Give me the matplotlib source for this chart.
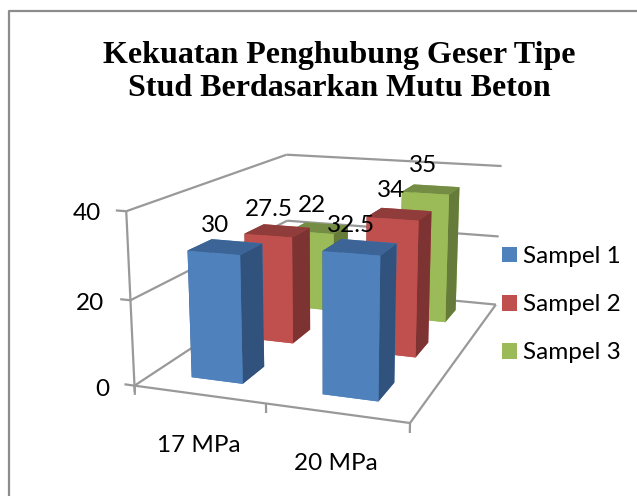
import numpy as np
import matplotlib
matplotlib.use('Agg')
import matplotlib.pyplot as plt
from matplotlib.lines import Line2D
from matplotlib.patches import Patch

W, H = 637, 496

categories = ['17 MPa', '20 MPa']
series_names = ['Sampel 1', 'Sampel 2', 'Sampel 3']
sampel_1 = [30, 32.5]
sampel_2 = [27.5, 34]
sampel_3 = [22, 35]
value_ticks = [0, 20, 40]
title = 'Kekuatan Penghubung Geser Tipe\nStud Berdasarkan Mutu Beton'

# front, top, side colour of each series
face_colors = [('#4F81BD', '#3C6496', '#30527C'),
               ('#C0504D', '#8F3C3A', '#7D3331'),
               ('#9BBB59', '#748C43', '#667B3A')]
grid_color = '#999999'

# text anchors in pixels of the picture
value_label_px = [[(215, 226), (351, 226)],
                  [(269, 209), (391, 191)],
                  [(312, 206), (423, 166)]]
tick_label_px = [(109, 389), (104, 304), (101, 214)]
cat_label_px = [(199, 446), (336, 464)]
label_size = 17.5

plt.rcParams['font.family'] = ['Lato', 'DejaVu Sans']


def fx(x):
    return x / W


def fy(y):
    return 1 - y / H


fig = plt.figure(figsize=(W / 100, H / 100), dpi=100)
ax = fig.add_axes([100.1 / W, -5.4 / H, 461.4 / W, 461.4 / H], projection='3d', computed_zorder=False)
ax.set_xlim(0, 2)
ax.set_ylim(0, 3)
ax.set_zlim(0, 40)
ax.view_init(14.05, -70.75, -0.15)
ax.set_proj_type('persp', focal_length=0.4189)
ax.set_box_aspect((1, 1.4385, 0.6226))
ax.set_axis_off()
ax.patch.set_alpha(0)


def wall(xs, ys, zs):
    ax.plot(xs, ys, zs, color=grid_color, lw=1.6, zorder=1, solid_capstyle='butt')


# walls and floor
for z in value_ticks:
    wall([0, 0], [0, 3], [z, z])
    wall([0, 2], [3, 3], [z, z])
wall([0, 0], [0, 0], [-1.5, 40])
wall([0, 2], [0, 0], [0, 0])
wall([2, 2], [0, 3], [0, 0])
for z in value_ticks:
    wall([-0.08, 0], [0, 0], [z, z])
for x in range(3):
    wall([x, x], [0, 0], [-2.2, 0])

# bars, back row first
rows = [sampel_1, sampel_2, sampel_3]
order = 10
for j in [2, 1, 0]:
    for i in range(len(categories)):
        front, top, side = face_colors[j]
        # bottom, top, -y, +y, -x, +x
        ax.bar3d(i + 0.3, j + 0.3, 0, 0.4, 0.4, rows[j][i],
                 color=[front, top, front, front, side, side],
                 shade=False, zorder=order, edgecolor='none', linewidth=0)
        order += 1

ax.set_xlim(0, 2)
ax.set_ylim(0, 3)
ax.set_zlim(0, 40)

for j in range(3):
    for i in range(len(categories)):
        lx, ly = value_label_px[j][i]
        fig.text(fx(lx), fy(ly), f'{rows[j][i]:g}', fontsize=label_size, ha='center', va='center', color='black')

for tick, (lx, ly) in zip(value_ticks, tick_label_px):
    fig.text(fx(lx), fy(ly), str(tick), fontsize=label_size, ha='right', va='center')
for cat, (lx, ly) in zip(categories, cat_label_px):
    fig.text(fx(lx), fy(ly), cat, fontsize=label_size, ha='center', va='center')

fig.text(fx(339.7), fy(96), title, family='Liberation Serif', weight='bold', fontsize=23,
         ha='center', va='baseline', linespacing=1.18, multialignment='center')

handles = [Patch(facecolor=c[0], edgecolor='none') for c in face_colors]
fig.legend(handles, series_names, loc='upper left', bbox_to_anchor=(fx(502), fy(246)),
           frameon=False, fontsize=label_size, handlelength=0.62, handleheight=0.62,
           handletextpad=0.25, labelspacing=1.12, borderaxespad=0, borderpad=0)

# chart frame, only left and top are in the picture
fig.add_artist(Line2D([fx(9), fx(9), 1], [0, fy(11), fy(11)], color='#8C8C8C', lw=1.6))

fig.savefig('out.png', dpi=100)
